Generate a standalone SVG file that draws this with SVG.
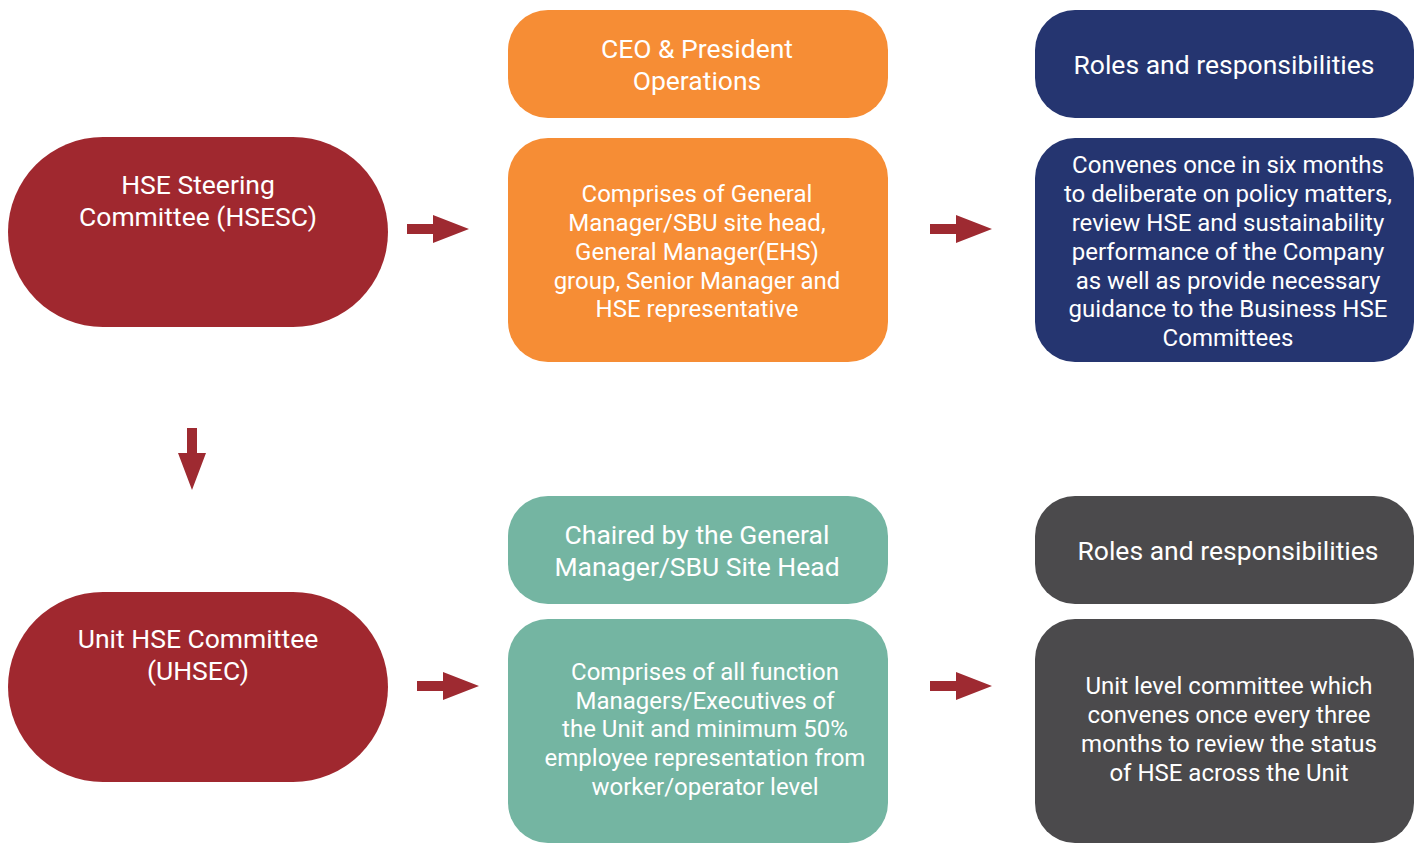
<svg xmlns="http://www.w3.org/2000/svg" width="1425" height="844" viewBox="0 0 1425 844">
<defs>
<style>
text{font-family:Roboto,"Liberation Sans",sans-serif;fill:#ffffff;text-anchor:middle}
.h{font-size:26.5px}
.b{font-size:24px}
.red{fill:#A0282F}
.org{fill:#F68D35}
.navy{fill:#253570}
.teal{fill:#74B5A2}
.gray{fill:#4B4A4C}
.arr{fill:#9E2A31}
</style>
</defs>
<rect width="1425" height="844" fill="#ffffff"/>
<g id="hsesc"><rect class="red" x="8" y="137" width="380" height="190" rx="95"/>
<text class="h" x="198" y="194">HSE Steering</text><text class="h" x="198" y="226">Committee (HSESC)</text></g>
<g id="uhsec"><rect class="red" x="8" y="592" width="380" height="190" rx="95"/>
<text class="h" x="198" y="648">Unit HSE Committee</text><text class="h" x="198" y="680">(UHSEC)</text></g>
<g id="ceo"><rect class="org" x="508" y="10" width="380" height="108" rx="40"/>
<text class="h" x="697" y="58">CEO &amp; President</text><text class="h" x="697" y="90">Operations</text></g>
<g id="comprises1"><rect class="org" x="508" y="138" width="380" height="224" rx="40"/>
<text class="b" x="697" y="202">Comprises of General</text>
<text class="b" x="697" y="231">Manager/SBU site head,</text>
<text class="b" x="697" y="260">General Manager(EHS)</text>
<text class="b" x="697" y="289">group, Senior Manager and</text>
<text class="b" x="697" y="317">HSE representative</text></g>
<g id="roles1"><rect class="navy" x="1035" y="10" width="379" height="108" rx="40"/>
<text class="h" x="1224" y="74">Roles and responsibilities</text></g>
<g id="convenes1"><rect class="navy" x="1035" y="138" width="379" height="224" rx="40"/>
<text class="b" x="1228" y="173">Convenes once in six months</text>
<text class="b" x="1228" y="202">to deliberate on policy matters,</text>
<text class="b" x="1228" y="231">review HSE and sustainability</text>
<text class="b" x="1228" y="260">performance of the Company</text>
<text class="b" x="1228" y="289">as well as provide necessary</text>
<text class="b" x="1228" y="317">guidance to the Business HSE</text>
<text class="b" x="1228" y="346">Committees</text></g>
<g id="chaired"><rect class="teal" x="508" y="496" width="380" height="108" rx="40"/>
<text class="h" x="697" y="544">Chaired by the General</text><text class="h" x="697" y="576">Manager/SBU Site Head</text></g>
<g id="comprises2"><rect class="teal" x="508" y="619" width="380" height="224" rx="40"/>
<text class="b" x="705" y="680">Comprises of all function</text>
<text class="b" x="705" y="709">Managers/Executives of</text>
<text class="b" x="705" y="737">the Unit and minimum 50%</text>
<text class="b" x="705" y="766">employee representation from</text>
<text class="b" x="705" y="795">worker/operator level</text></g>
<g id="roles2"><rect class="gray" x="1035" y="496" width="379" height="108" rx="40"/>
<text class="h" x="1228" y="560">Roles and responsibilities</text></g>
<g id="unitlevel"><rect class="gray" x="1035" y="619" width="379" height="224" rx="40"/>
<text class="b" x="1229" y="694">Unit level committee which</text>
<text class="b" x="1229" y="723">convenes once every three</text>
<text class="b" x="1229" y="752">months to review the status</text>
<text class="b" x="1229" y="781">of HSE across the Unit</text></g>
<g id="connectors">
<polygon class="arr" points="407,224 433,224 433,215 469,229 433,243 433,234 407,234"/>
<polygon class="arr" points="930,224 956,224 956,215 992,229 956,243 956,234 930,234"/>
<polygon class="arr" points="417,681 443,681 443,672 479,686 443,700 443,691 417,691"/>
<polygon class="arr" points="930,681 956,681 956,672 992,686 956,700 956,691 930,691"/>
<polygon class="arr" points="187,428 197,428 197,453 206,453 192,490 178,453 187,453"/>
</g>
</svg>
